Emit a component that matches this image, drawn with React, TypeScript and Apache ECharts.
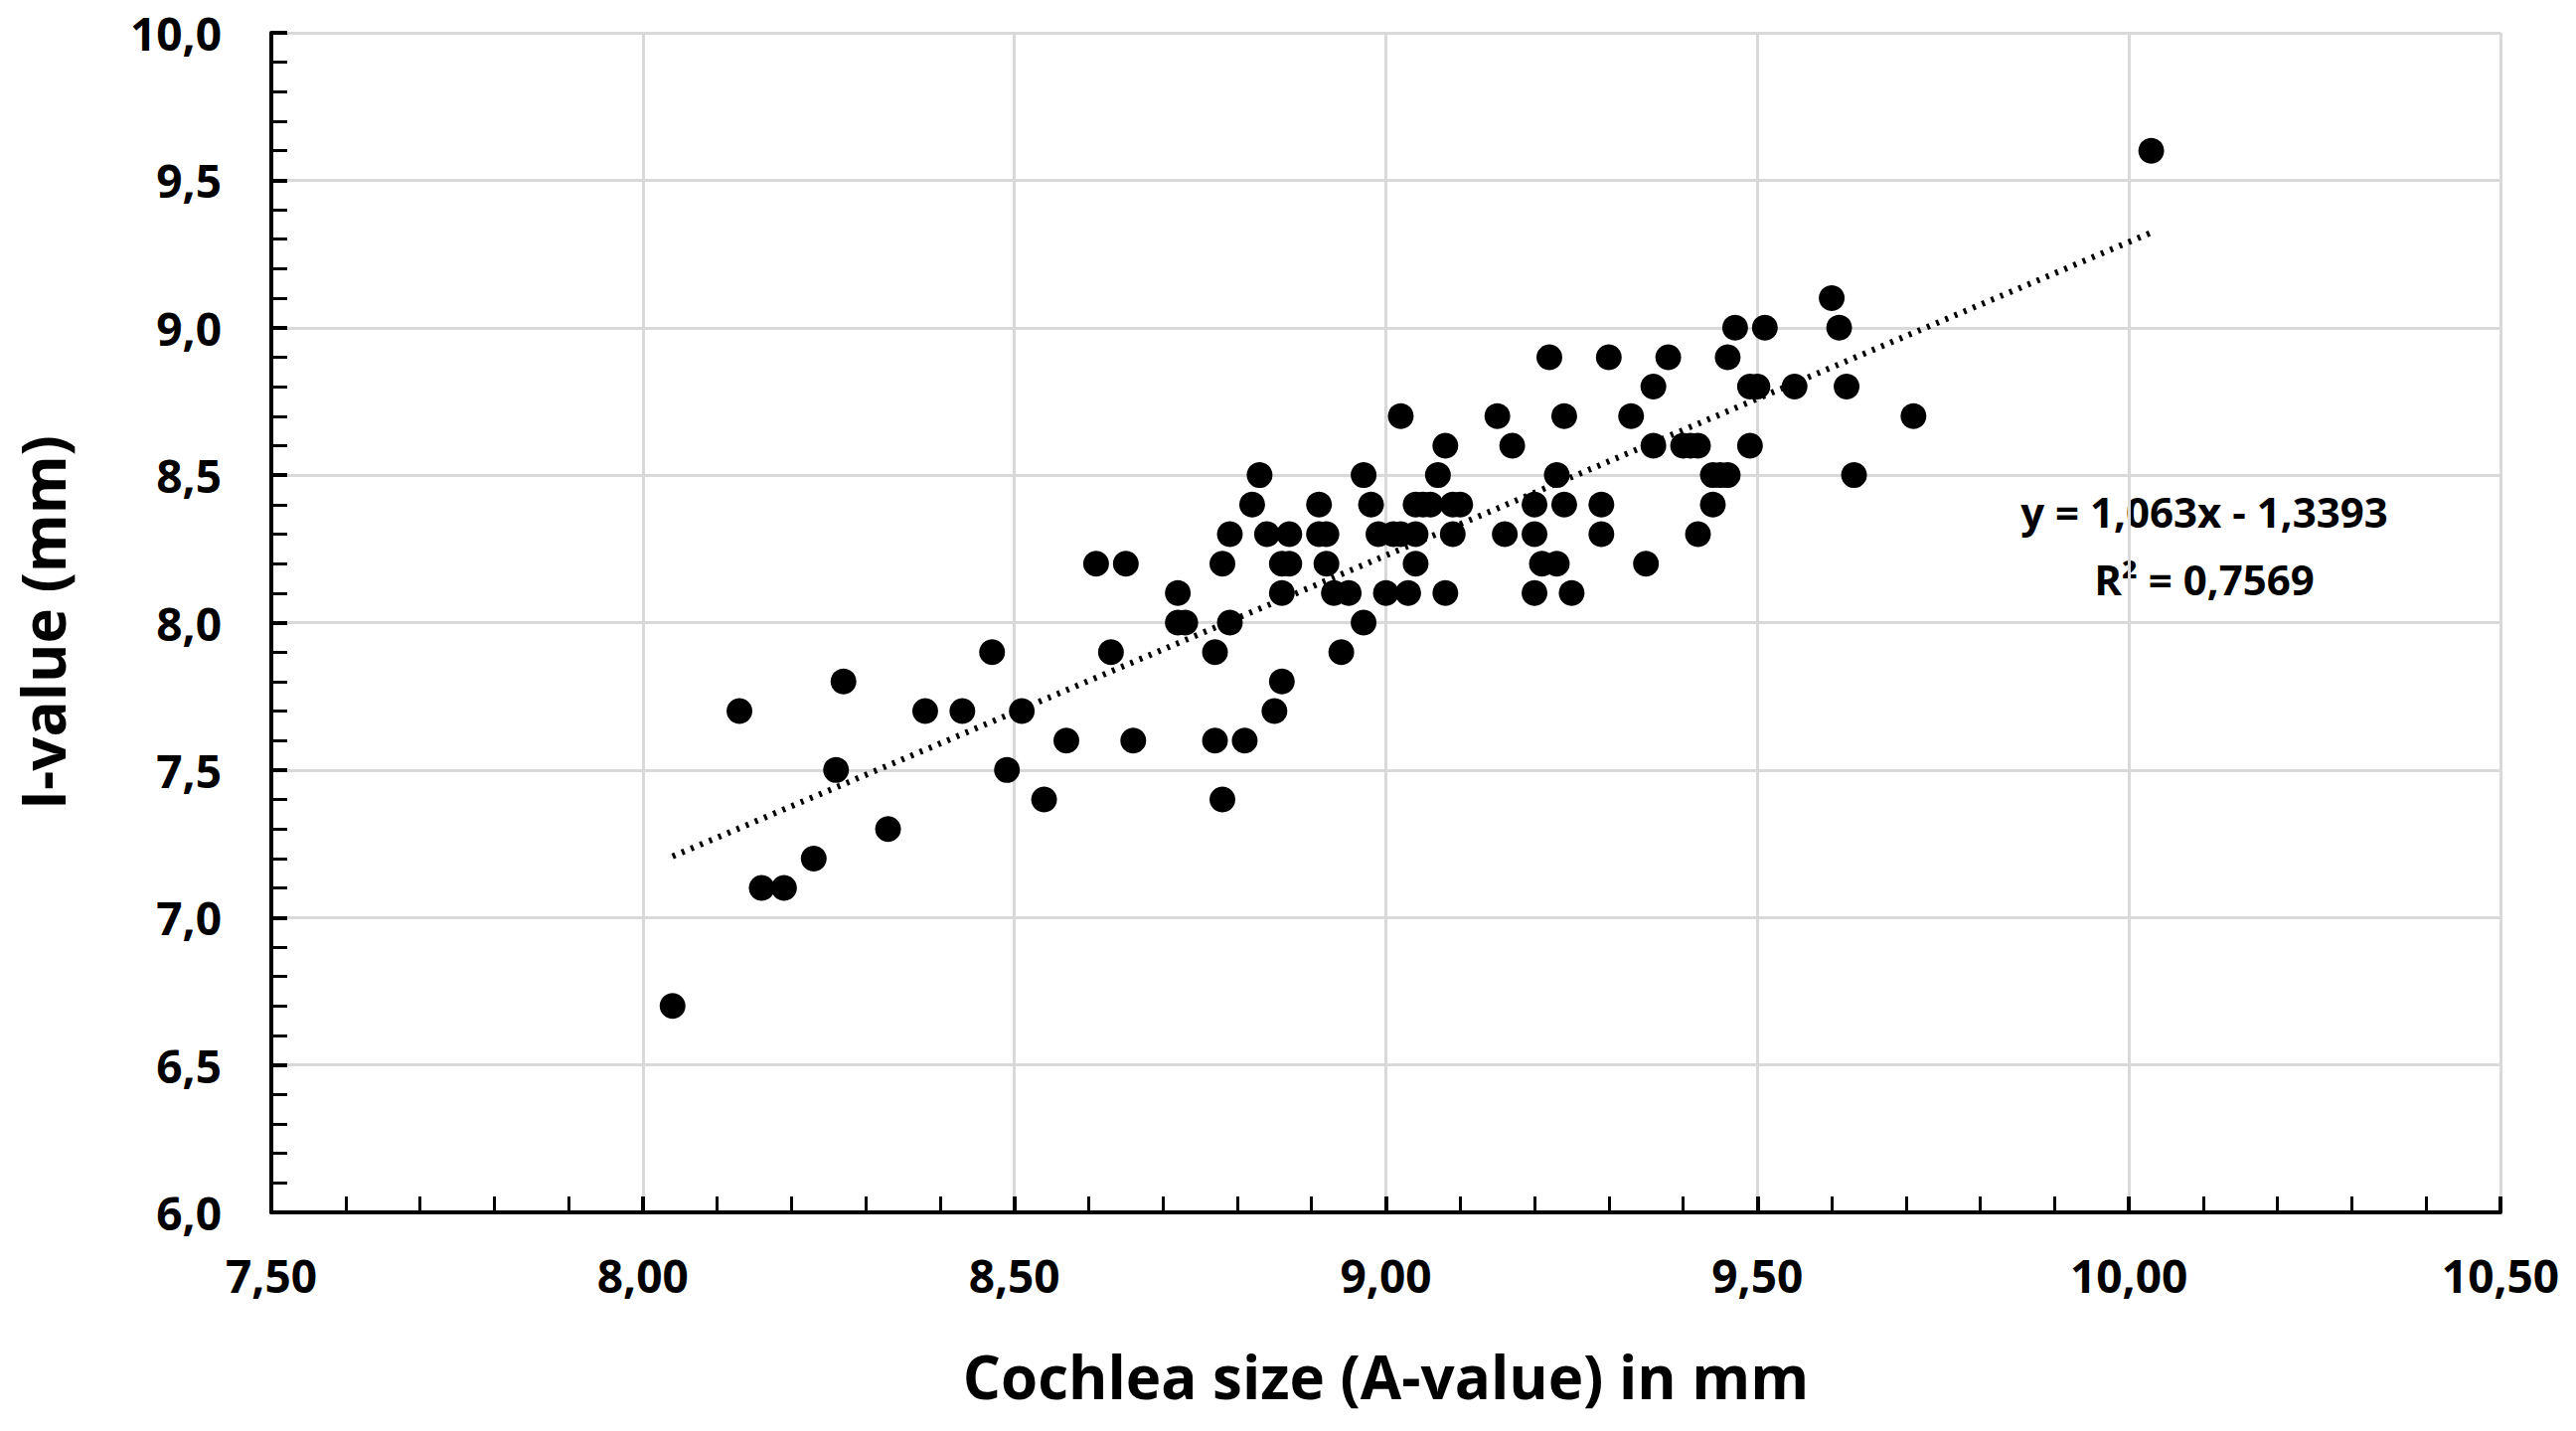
import { useEffect, useRef } from 'react';
import * as echarts from 'echarts';

const aValues = [
  8.04, 8.13, 8.16, 8.19, 8.23, 8.26, 8.27, 8.33, 8.38, 8.43, 8.47, 8.49, 8.51, 8.54, 8.57,
  8.61, 8.63, 8.65, 8.66, 8.72, 8.72, 8.73, 8.77, 8.77, 8.78, 8.78, 8.79, 8.79, 8.81, 8.82,
  8.83, 8.84, 8.85, 8.86, 8.86, 8.86, 8.87, 8.87, 8.91, 8.91, 8.92, 8.92, 8.93, 8.94, 8.95,
  8.97, 8.97, 8.98, 8.99, 9.0, 9.01, 9.02, 9.02, 9.03, 9.04, 9.04, 9.04, 9.05, 9.06, 9.07,
  9.08, 9.08, 9.09, 9.09, 9.1, 9.15, 9.16, 9.17, 9.2, 9.2, 9.2, 9.21, 9.22, 9.23, 9.23,
  9.24, 9.24, 9.25, 9.29, 9.29, 9.3, 9.33, 9.35, 9.36, 9.36, 9.38, 9.4, 9.41, 9.42, 9.42,
  9.44, 9.44, 9.45, 9.46, 9.46, 9.47, 9.49, 9.49, 9.5, 9.51, 9.55, 9.6, 9.61, 9.62, 9.63,
  9.71, 10.03,
];
const iValues = [
  6.7, 7.7, 7.1, 7.1, 7.2, 7.5, 7.8, 7.3, 7.7, 7.7, 7.9, 7.5, 7.7, 7.4, 7.6,
  8.2, 7.9, 8.2, 7.6, 8.1, 8.0, 8.0, 7.9, 7.6, 8.2, 7.4, 8.3, 8.0, 7.6, 8.4,
  8.5, 8.3, 7.7, 8.2, 8.1, 7.8, 8.3, 8.2, 8.4, 8.3, 8.3, 8.2, 8.1, 7.9, 8.1,
  8.5, 8.0, 8.4, 8.3, 8.1, 8.3, 8.7, 8.3, 8.1, 8.4, 8.3, 8.2, 8.4, 8.4, 8.5,
  8.6, 8.1, 8.4, 8.3, 8.4, 8.7, 8.3, 8.6, 8.4, 8.3, 8.1, 8.2, 8.9, 8.5, 8.2,
  8.7, 8.4, 8.1, 8.4, 8.3, 8.9, 8.7, 8.2, 8.8, 8.6, 8.9, 8.6, 8.6, 8.6, 8.3,
  8.5, 8.4, 8.5, 8.9, 8.5, 9.0, 8.8, 8.6, 8.8, 9.0, 8.8, 9.1, 9.0, 8.8, 8.5,
  8.7, 9.6,
];

// trendline reported on the chart: y = 1,063x - 1,3393
const slope = 1.063;
const intercept = -1.3393;
const trendX = [8.04, 10.03];

const FONT = '"Open Sans", "Liberation Sans", sans-serif';

export default function App() {
  const ref = useRef<HTMLDivElement>(null);

  useEffect(() => {
    document.body.style.margin = '0';
    if (!ref.current) return;
    const chart = echarts.init(ref.current, undefined, { renderer: 'svg' });
    const axisLine = { lineStyle: { color: '#000', width: 4 } };
    chart.setOption({
      animation: false,
      backgroundColor: '#fff',
      textStyle: { fontFamily: FONT },
      grid: { left: 273, right: 76, top: 33, bottom: 220 },
      xAxis: {
        type: 'value',
        min: 7.5,
        max: 10.5,
        interval: 0.5,
        name: 'Cochlea size (A-value) in mm',
        nameLocation: 'middle',
        nameGap: 135,
        nameTextStyle: { fontSize: 60, fontWeight: 'bold', color: '#000', fontFamily: FONT },
        axisLine,
        axisTick: { show: true, inside: true, length: 16, lineStyle: { color: '#000', width: 4 } },
        minorTick: { show: true, splitNumber: 5, length: 16, lineStyle: { color: '#000', width: 3 } },
        splitLine: { show: true, lineStyle: { color: '#d9d9d9', width: 3 } },
        axisLabel: {
          fontSize: 46,
          fontWeight: 'bold',
          color: '#000',
          margin: 40,
          formatter: (v: number) => v.toFixed(2).replace('.', ','),
        },
      },
      yAxis: {
        type: 'value',
        min: 6,
        max: 10,
        interval: 0.5,
        name: 'I-value (mm)',
        nameLocation: 'middle',
        nameGap: 200,
        nameTextStyle: { fontSize: 60, fontWeight: 'bold', color: '#000', fontFamily: FONT },
        axisLine,
        axisTick: { show: true, inside: true, length: 16, lineStyle: { color: '#000', width: 4 } },
        minorTick: { show: true, splitNumber: 5, length: 16, lineStyle: { color: '#000', width: 3 } },
        splitLine: { show: true, lineStyle: { color: '#d9d9d9', width: 3 } },
        axisLabel: {
          fontSize: 46,
          fontWeight: 'bold',
          color: '#000',
          margin: 50,
          formatter: (v: number) => v.toFixed(1).replace('.', ','),
        },
      },
      series: [
        {
          type: 'line',
          data: trendX.map((x) => [x, slope * x + intercept]),
          symbol: 'none',
          lineStyle: { color: '#000', width: 6, type: [3, 7] },
          z: 1,
        },
        {
          type: 'scatter',
          data: aValues.map((a, i) => [a, iValues[i]]),
          symbol: 'circle',
          symbolSize: 26,
          itemStyle: { color: '#000', opacity: 1 },
          z: 2,
        },
      ],
      graphic: [
        {
          type: 'text',
          x: 2218,
          y: 514,
          style: {
            text: 'y = 1,063x - 1,3393',
            font: `bold 42px ${FONT}`,
            fill: '#000',
            align: 'center',
            verticalAlign: 'middle',
          },
        },
        {
          type: 'text',
          x: 2218,
          y: 582,
          style: {
            text: 'R² = 0,7569',
            font: `bold 42px ${FONT}`,
            fill: '#000',
            align: 'center',
            verticalAlign: 'middle',
          },
        },
      ],
    });
    return () => chart.dispose();
  }, []);

  return <div ref={ref} style={{ width: '2592px', height: '1440px' }} />;
}
